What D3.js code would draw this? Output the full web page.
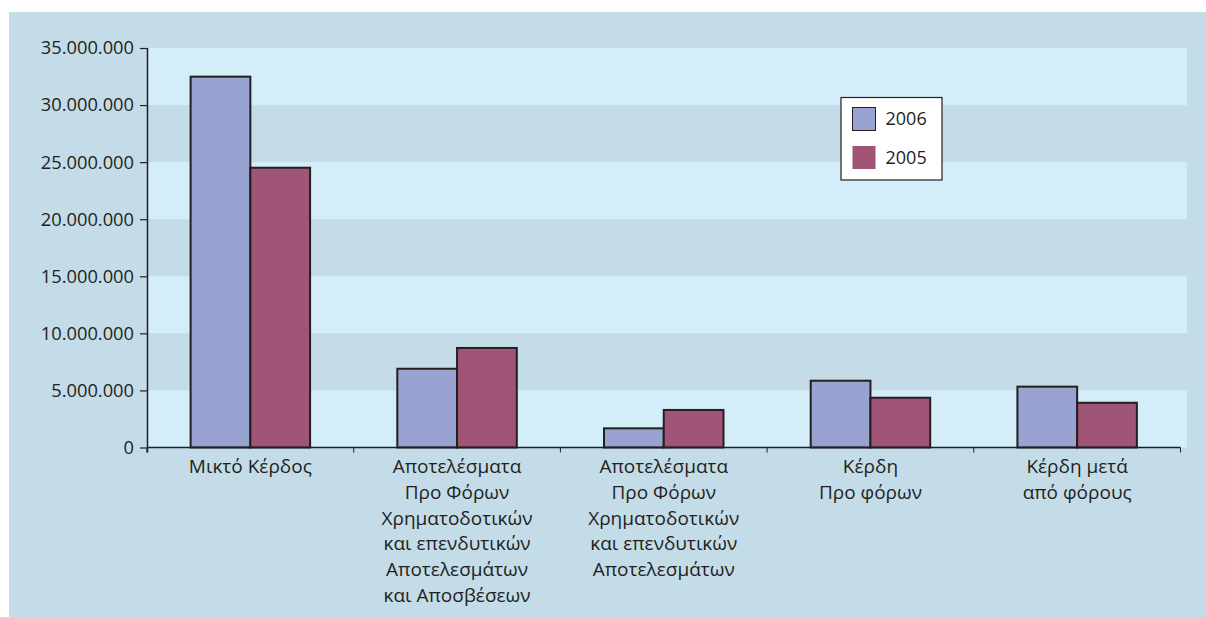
<!DOCTYPE html>
<html>
<head>
<meta charset="utf-8">
<script src="https://cdn.jsdelivr.net/npm/d3@7"></script>
<style>
  body { margin: 0; background: #ffffff; }
  svg text { font-family: "Open Sans", "Noto Sans", sans-serif; fill: #231f20; }
</style>
</head>
<body>
<div id="chart"></div>
<script>
// categories (each label split into its lines)
const categories = [
  ["Μικτό Κέρδος"],
  ["Αποτελέσματα", "Προ Φόρων", "Χρηματοδοτικών", "και επενδυτικών", "Αποτελεσμάτων", "και Αποσβέσεων"],
  ["Αποτελέσματα", "Προ Φόρων", "Χρηματοδοτικών", "και επενδυτικών", "Αποτελεσμάτων"],
  ["Κέρδη", "Προ φόρων"],
  ["Κέρδη μετά", "από φόρους"]
];
const seriesNames = ["2006", "2005"];
const values2006 = [32490000, 6900000, 1680000, 5850000, 5330000];
const values2005 = [24510000, 8720000, 3290000, 4360000, 3920000];
const yTicks = [0, 5000000, 10000000, 15000000, 20000000, 25000000, 30000000, 35000000];

const colors = { "2006": "#99a3d1", "2005": "#a05476" };

const W = 1206, H = 617;

var svg = d3.select("#chart").append("svg")
  .attr("width", W).attr("height", H);

// panel background
svg.append("rect").attr("x", 9).attr("y", 12).attr("width", W - 9).attr("height", H - 12)
  .attr("fill", "#c3dce8");

var x = d3.scaleBand()
  .domain(d3.range(categories.length))
  .range([147, 1180.5])
  .paddingInner(0.422)
  .paddingOuter(0.211);

var x1 = d3.scaleBand().domain(seriesNames).range([0, x.bandwidth()]);

var y = d3.scaleLinear().domain([0, 35000000]).range([447.5, 48]);

// alternating bands
var bands = d3.pairs(yTicks).filter((d, i) => i % 2 === 0);
svg.append("g").selectAll("rect").data(bands).enter().append("rect")
  .attr("x", 147).attr("width", 1187 - 147)
  .attr("y", d => y(d[1])).attr("height", d => y(d[0]) - y(d[1]))
  .attr("fill", "#d4eef9");

// bars
var rows = categories.map((c, i) => ({ i: i, "2006": values2006[i], "2005": values2005[i] }));
var groups = svg.append("g").selectAll("g").data(rows).enter().append("g")
  .attr("transform", d => "translate(" + x(d.i) + ",0)");
groups.selectAll("rect")
  .data(d => seriesNames.map(s => ({ s: s, v: d[s] })))
  .enter().append("rect")
  .attr("x", d => x1(d.s))
  .attr("width", x1.bandwidth())
  .attr("y", d => y(d.v))
  .attr("height", d => y(0) - y(d.v))
  .attr("fill", d => colors[d.s])
  .attr("stroke", "#231f20")
  .attr("stroke-width", 2);

// y axis
var fmt = d3.formatLocale({decimal: ",", thousands: ".", grouping: [3], currency: ["", ""]}).format(",d");
var yAxis = svg.append("g")
  .attr("transform", "translate(147,0)")
  .call(d3.axisLeft(y).tickValues(yTicks).tickFormat(fmt).tickSize(7).tickPadding(6).tickSizeOuter(0));
yAxis.select(".domain").attr("stroke", "#231f20").attr("stroke-width", 1.5)
  .attr("d", "M0.5," + (y(0) + 5) + "V" + y(35000000));
yAxis.selectAll(".tick line").attr("stroke", "#231f20").attr("stroke-width", 1.2);
yAxis.selectAll("text").style("font-size", "18.3px").attr("fill", "#231f20");

// x axis with ticks on category boundaries
var step = x.step();
var bounds = d3.range(categories.length + 1).map(i => x.range()[0] + i * step);
var xAxis = svg.append("g").attr("transform", "translate(0," + y(0) + ")");
xAxis.append("line").attr("x1", 147).attr("x2", bounds[bounds.length - 1])
  .attr("stroke", "#231f20").attr("stroke-width", 1.5);
xAxis.selectAll(".bt").data(bounds).enter().append("line")
  .attr("x1", d => d).attr("x2", d => d).attr("y1", 0).attr("y2", 5)
  .attr("stroke", "#231f20").attr("stroke-width", 1);

// category labels
var labels = svg.append("g").selectAll("text").data(categories).enter().append("text")
  .attr("text-anchor", "middle")
  .attr("transform", (d, i) => "translate(" + (x(i) + x.bandwidth() / 2) + ",473)")
  .style("font-size", "19px");
labels.selectAll("tspan").data(d => d).enter().append("tspan")
  .attr("x", 0).attr("y", (d, j) => j * 25.8)
  .text(d => d);

// legend
var legend = svg.append("g").attr("transform", "translate(841,97.5)");
legend.append("rect").attr("width", 101).attr("height", 82.5)
  .attr("fill", "#ffffff").attr("stroke", "#231f20").attr("stroke-width", 1.2);
var li = legend.selectAll("g").data(seriesNames).enter().append("g")
  .attr("transform", (d, i) => "translate(11.5," + (10 + i * 38.5) + ")");
li.append("rect").attr("width", 23).attr("height", 23)
  .attr("fill", d => colors[d])
  .attr("stroke", d => d === "2006" ? "#231f20" : "none").attr("stroke-width", 1);
li.append("text").attr("x", 33).attr("y", 11.5).attr("dy", "0.36em")
  .style("font-size", "18px").text(d => d);
</script>
</body>
</html>
